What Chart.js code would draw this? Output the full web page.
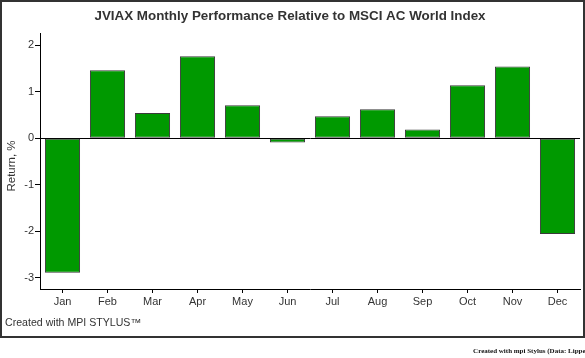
<!DOCTYPE html>
<html>
<head>
<meta charset="utf-8">
<script src="https://cdn.jsdelivr.net/npm/chart.js@4/dist/chart.umd.min.js"></script>
<style>
  html, body { margin: 0; padding: 0; background: #fff; }
  #wrap { position: relative; width: 585px; height: 358px; overflow: hidden; }
  #c { position: absolute; left: 0; top: 0; }
  #frame { position: absolute; left: 0; top: 0; width: 581px; height: 334px; border: 2px solid #333; pointer-events: none; }
  #credit { position: absolute; left: 5px; top: 316px; font: 10.6px "Liberation Sans", Arial, sans-serif; color: #333; white-space: nowrap; }
  #foot { position: absolute; right: -6px; top: 347px; font: bold 7px "Liberation Serif", "Times New Roman", serif; color: #111; white-space: nowrap; }
  #ytitle { position: absolute; left: 11.7px; top: 165.7px; transform: translate(-50%, -50%) rotate(-90deg); font: 11.5px "Liberation Sans", Arial, sans-serif; color: #333; white-space: nowrap; line-height: 1; }
</style>
</head>
<body>
<div id="wrap">
  <canvas id="c" width="585" height="358"></canvas>
  <div id="frame"></div>
  <div id="ytitle"></div>
  <div id="credit">Created with MPI STYLUS™</div>
  <div id="foot">Created with mpi Stylus (Data: Lipper)</div>
</div>
<script>
const titleText = "JVIAX Monthly Performance Relative to MSCI AC World Index";
const yAxisTitle = "Return, %";
const months = ["Jan","Feb","Mar","Apr","May","Jun","Jul","Aug","Sep","Oct","Nov","Dec"];
const relReturns = [-2.89, 1.46, 0.54, 1.76, 0.71, -0.09, 0.47, 0.62, 0.19, 1.14, 1.54, -2.06];
const yTicks = [-3, -2, -1, 0, 1, 2];
const yMin = -3.24, yMax = 2.24;

document.getElementById('ytitle').textContent = yAxisTitle;

new Chart(document.getElementById('c'), {
  type: 'bar',
  data: {
    labels: months,
    datasets: [{
      data: relReturns,
      backgroundColor: '#009900',
      borderColor: '#3a3a3a',
      borderWidth: 1,
      borderSkipped: false,
      barPercentage: 0.78,
      categoryPercentage: 1
    }]
  },
  options: {
    responsive: false,
    animation: false,
    devicePixelRatio: 1,
    layout: { padding: { left: 0, right: 5, top: 0, bottom: 0 } },
    plugins: {
      legend: { display: false },
      tooltip: { enabled: false },
      title: {
        display: true,
        text: titleText,
        color: '#333',
        font: { family: '"Liberation Sans", Arial, sans-serif', size: 13.4, weight: 'bold' },
        padding: { top: 8.5, bottom: 9.4 }
      }
    },
    scales: {
      x: {
        offset: true,
        grid: { display: true, offset: false, drawOnChartArea: false, drawTicks: true, tickLength: 4, tickColor: '#000' },
        border: { display: true, color: '#000', width: 1 },
        ticks: { color: '#333', padding: 2, font: { family: '"Liberation Sans", Arial, sans-serif', size: 11 }, maxRotation: 0 },
        afterFit: (s) => { s.height = 69; }
      },
      y: {
        min: yMin, max: yMax,
        afterBuildTicks: (s) => { s.ticks = yTicks.map(v => ({ value: v })); },
        grid: {
          display: true,
          drawOnChartArea: true,
          drawTicks: true,
          tickLength: 5,
          tickColor: '#000',
          color: (ctx) => (ctx.tick && ctx.tick.value === 0) ? '#000' : 'rgba(0,0,0,0)',
          lineWidth: 1
        },
        border: { display: true, color: '#000', width: 1 },
        ticks: { color: '#333', padding: 1, font: { family: '"Liberation Sans", Arial, sans-serif', size: 11 } },
        title: { display: false },
        afterFit: (s) => { s.width = 40; }
      }
    }
  }
});
</script>
</body>
</html>
